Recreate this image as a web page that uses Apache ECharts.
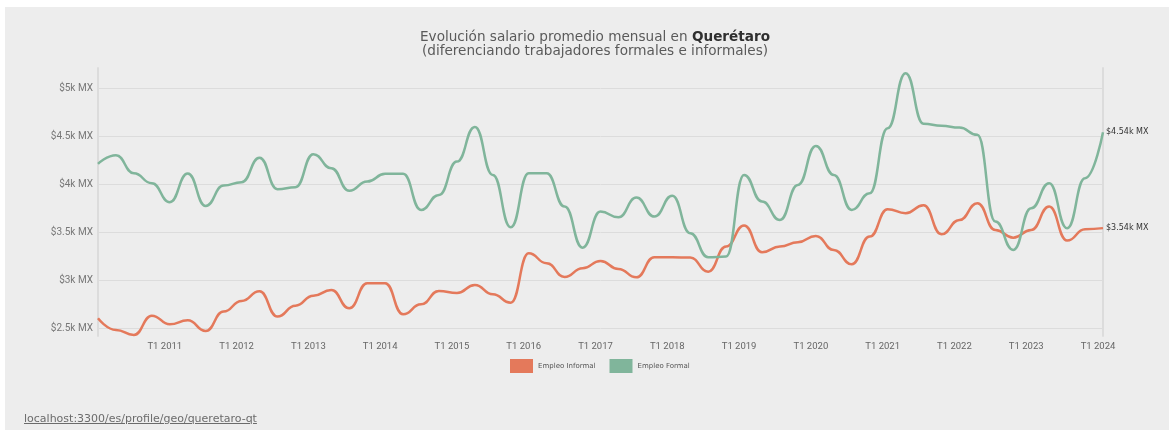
<!DOCTYPE html>
<html>
<head>
<meta charset="utf-8">
<script src="https://cdn.jsdelivr.net/npm/echarts@6/dist/echarts.min.js"></script>
<style>
  html, body { margin: 0; padding: 0; background: #ffffff; width: 1171px; height: 430px; overflow: hidden; }
  #panel { position: absolute; left: 5px; top: 7px; width: 1164px; height: 423px; background: #ededed; }
  #chart { position: absolute; left: 0; top: 0; width: 1171px; height: 430px; }
  #src { position: absolute; left: 24px; top: 412px; font-family: "DejaVu Sans", sans-serif; font-size: 11px; color: #6b6b6b; text-decoration: underline; }
</style>
</head>
<body>
<div id="panel"></div>
<div id="chart"></div>
<div id="src">localhost:3300/es/profile/geo/queretaro-qt</div>
<script>
// Quarters T1 2010 .. T1 2024
const years = [2010, 2011, 2012, 2013, 2014, 2015, 2016, 2017, 2018, 2019, 2020, 2021, 2022, 2023, 2024];
const quarters = [];
years.forEach(function (y) {
  for (let q = 1; q <= 4; q++) {
    if (y === 2024 && q > 1) break;
    quarters.push('T' + q + ' ' + y);
  }
});

const seriesNames = ['Empleo Informal', 'Empleo Formal'];

const informal = [
  2604, 2483, 2431, 2632, 2542, 2583, 2472, 2674,
  2785, 2885, 2622, 2736, 2840, 2899, 2708, 2969,
  2969, 2646, 2750, 2889, 2868, 2951, 2854, 2767,
  3281, 3177, 3035, 3125, 3201, 3118, 3031, 3240,
  3240, 3236, 3090, 3351, 3570, 3292, 3351, 3396,
  3462, 3316, 3167, 3455, 3740, 3698, 3780, 3479,
  3628, 3802, 3524, 3444, 3524, 3767, 3413, 3531,
  3543
];

const formal = [
  4212, 4302, 4115, 4010, 3813, 4111, 3774, 3986,
  4021, 4276, 3948, 3969, 4313, 4167, 3931, 4028,
  4108, 4108, 3733, 3889, 4236, 4597, 4097, 3552,
  4115, 4115, 3767, 3340, 3715, 3656, 3861, 3663,
  3879, 3490, 3240, 3247, 4097, 3819, 3628, 3993,
  4399, 4097, 3733, 3906, 4583, 5156, 4630, 4608,
  4590, 4514, 3611, 3316, 3750, 4010, 3542, 4063,
  4542
];

const titleMain = 'Evolución salario promedio mensual en ';
const titlePlace = 'Querétaro';
const titleSub = '(diferenciando trabajadores formales e informales)';

const COLORS = ['#e4795b', '#80b59b'];

const chart = echarts.init(document.getElementById('chart'), null, { renderer: 'canvas' });

function fmtAxis(v) {
  return '$' + (v / 1000) + 'k MX';
}
function fmtEnd(p) {
  return '$' + (p.value / 1000).toFixed(2) + 'k MX';
}

const option = {
  backgroundColor: 'transparent',
  animation: false,
  color: COLORS,
  textStyle: { fontFamily: 'Roboto, sans-serif' },
  title: {
    left: 595,
    textAlign: 'center',
    top: 31,
    padding: 0,
    text: '{a|' + titleMain + '}{b|' + titlePlace + '}\n{a|' + titleSub + '}',
    textStyle: {
      fontWeight: 'normal',
      rich: {
        a: { fontSize: 13.6, color: '#5a5a5a', fontWeight: 'normal', fontFamily: '"DejaVu Sans", sans-serif', lineHeight: 13.5 },
        b: { fontSize: 13.6, color: '#2f2f2f', fontWeight: 'bold', fontFamily: '"DejaVu Sans", sans-serif', lineHeight: 13.5 }
      }
    }
  },
  legend: {
    left: 510,
    top: 359,
    padding: 0,
    icon: 'rect',
    itemWidth: 23,
    itemHeight: 14,
    itemGap: 14,
    data: seriesNames,
    textStyle: { fontSize: 7, color: '#555555', fontFamily: '"DejaVu Sans", sans-serif' }
  },
  grid: { left: 98, right: 68, top: 68, bottom: 94, containLabel: false },
  xAxis: {
    type: 'category',
    data: quarters,
    boundaryGap: false,
    axisLine: { show: false },
    axisTick: { show: false },
    splitLine: { show: false },
    axisLabel: {
      interval: function (idx, val) { return val.indexOf('T1') === 0 && val !== 'T1 2010'; },
      color: '#666666',
      fontSize: 9.5,
      margin: 6,
      padding: [0, 10, 0, 0]
    }
  },
  yAxis: [{
    type: 'value',
    min: 2420,
    max: 5210,
    splitNumber: 5,
    axisLine: { show: true, lineStyle: { color: '#dcdcdc', width: 2 } },
    axisTick: { show: false },
    axisLabel: {
      formatter: fmtAxis,
      color: '#777777',
      fontSize: 10,
      margin: 5,
      showMinLabel: false,
      showMaxLabel: false
    },
    splitLine: { show: true, showMinLine: false, showMaxLine: false, lineStyle: { color: '#dcdcdc', width: 1 } }
  }, {
    type: 'value',
    position: 'right',
    min: 2420,
    max: 5210,
    axisLine: { show: true, lineStyle: { color: '#dcdcdc', width: 2 } },
    axisTick: { show: false },
    axisLabel: { show: false },
    splitLine: { show: false }
  }],
  series: [{
    name: seriesNames[0],
    type: 'line',
    data: informal,
    smooth: 0.5,
    smoothMonotone: 'x',
    showSymbol: false,
    symbol: 'none',
    lineStyle: { width: 2.5, color: COLORS[0] },
    itemStyle: { color: COLORS[0] },
    endLabel: { show: true, formatter: fmtEnd, fontSize: 8, color: '#333333', distance: 3, fontFamily: '"DejaVu Sans", sans-serif' }
  }, {
    name: seriesNames[1],
    type: 'line',
    data: formal,
    smooth: 0.5,
    smoothMonotone: 'x',
    showSymbol: false,
    symbol: 'none',
    lineStyle: { width: 2.5, color: COLORS[1] },
    itemStyle: { color: COLORS[1] },
    endLabel: { show: true, formatter: fmtEnd, fontSize: 8, color: '#333333', distance: 3, fontFamily: '"DejaVu Sans", sans-serif' }
  }]
};

chart.setOption(option);
</script>
</body>
</html>
